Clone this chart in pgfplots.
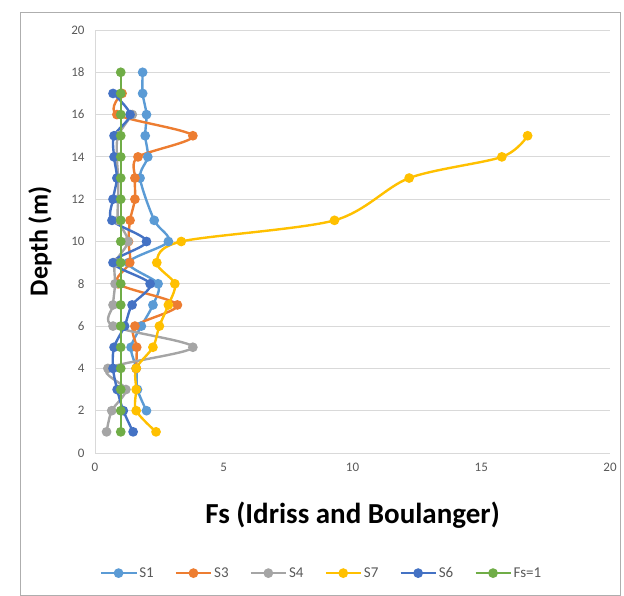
\documentclass[border=0pt]{standalone}
\usepackage{pgfplots}
\pgfplotsset{compat=1.18}
\usepackage{fontspec}
\setmainfont{Carlito}
\definecolor{cSa}{HTML}{5B9BD5}
\definecolor{cSb}{HTML}{ED7D31}
\definecolor{cSc}{HTML}{A5A5A5}
\definecolor{cSd}{HTML}{FFC000}
\definecolor{cSe}{HTML}{4472C4}
\definecolor{cSf}{HTML}{70AD47}
\definecolor{gridgray}{HTML}{D9D9D9}
\definecolor{tickgray}{HTML}{595959}
\begin{document}
\begin{tikzpicture}[x=1pt,y=1pt]
\path (0,0) rectangle (624,596);
\draw[draw=gridgray!80!black, line width=0.8pt] (20,1) rectangle (620,584);
\begin{axis}[
  at={(95pt,143pt)}, anchor=south west,
  scale only axis, width=515pt, height=423pt,
  xmin=0, xmax=20, ymin=0, ymax=20,
  xtick={0,5,...,20}, ytick={0,2,...,20},
  ymajorgrids, grid style={draw=gridgray, line width=0.8pt},
  axis x line*=bottom, axis y line*=left,
  axis line style={-, draw=gridgray, line width=0.8pt},
  tick style={draw=none},
  /pgf/number format/assume math mode=true,
  ticklabel style={font=\fontsize{13}{15}\selectfont, text=tickgray},
  xticklabel style={yshift=-7pt},
  yticklabel style={xshift=-7pt},
  xlabel={\bfseries Fs (Idriss and Boulanger)},
  ylabel={\bfseries Depth (m)},
  xlabel style={font=\fontsize{29}{33}\selectfont, at={(axis description cs:0.5,-0.147)}, anchor=center},
  ylabel style={font=\fontsize{26}{30}\selectfont, at={(axis description cs:-0.107,0.5)}, anchor=center},
  legend columns=6,
  legend style={at={(axis description cs:0.44,-0.284)}, anchor=center, draw=none,
    font=\fontsize{15}{17}\selectfont, text=tickgray,
    /tikz/every even column/.append style={column sep=19pt}},
  legend image code/.code={\draw[mark repeat=2,mark phase=2] plot coordinates {(0pt,0pt) (17.5pt,0pt) (35pt,0pt)};},
  every axis plot/.append style={line width=2.4pt, mark=*, mark size=3.6pt, smooth},
]
\addplot[color=cSa] coordinates {(2.0,2)(1.65,3)(1.6,4)(1.4,5)(1.8,6)(2.25,7)(2.45,8)(1.3,9)(2.85,10)(2.3,11)(1.75,13)(2.05,14)(1.95,15)(2.0,16)(1.85,17)(1.85,18)};
\addlegendentry{S1}
\addplot[color=cSb] coordinates {(1.6,4)(1.62,5)(1.55,6)(3.2,7)(0.9,8)(1.35,9)(1.3,10)(1.36,11)(1.55,12)(1.55,13)(1.67,14)(3.8,15)(0.85,16)(1.05,17)};
\addlegendentry{S3}
\addplot[color=cSc] coordinates {(0.45,1)(0.65,2)(1.2,3)(0.5,4)(3.8,5)(0.7,6)(0.7,7)(0.78,8)(0.78,9)(1.28,10)(0.9,11)(0.9,12)(0.9,13)(0.85,14)(0.9,15)(1.45,16)};
\addlegendentry{S4}
\addplot[color=cSd] coordinates {(2.37,1)(1.6,2)(1.6,3)(1.6,4)(2.25,5)(2.5,6)(2.85,7)(3.1,8)(2.4,9)(3.35,10)(9.3,11)(12.2,13)(15.8,14)(16.8,15)};
\addlegendentry{S7}
\addplot[color=cSe] coordinates {(1.48,1)(1.1,2)(0.86,3)(0.7,4)(0.74,5)(1.15,6)(1.44,7)(2.14,8)(0.7,9)(2.0,10)(0.66,11)(0.7,12)(0.85,13)(0.74,14)(0.74,15)(1.36,16)(0.7,17)};
\addlegendentry{S6}
\addplot[color=cSf] coordinates {(1,1)(1,2)(1,3)(1,4)(1,5)(1,6)(1,7)(1,8)(1,9)(1,10)(1,11)(1,12)(1,13)(1,14)(1,15)(1,16)(1,17)(1,18)};
\addlegendentry{Fs=1}
\end{axis}
\end{tikzpicture}
\end{document}
